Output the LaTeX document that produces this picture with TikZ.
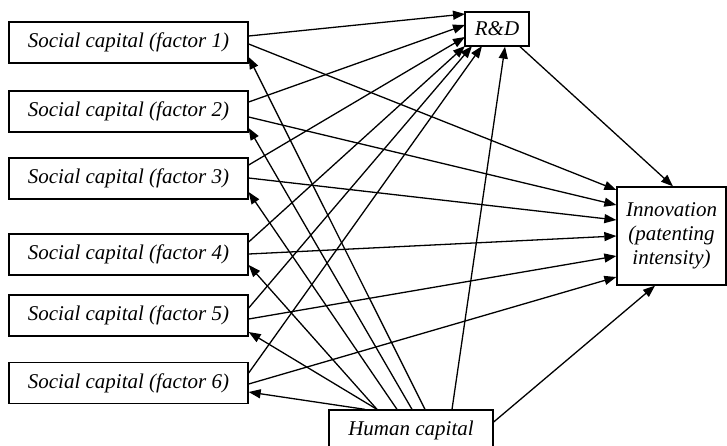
\documentclass[tikz,border=0pt]{standalone}
\usepackage{fontspec}
\setmainfont{Liberation Serif}
\usetikzlibrary{arrows.meta}

\begin{document}
\begin{tikzpicture}[x=1pt, y=-1pt,
        box/.style={draw, line width=1.3pt, inner sep=0pt, font=\fontsize{21}{24}\selectfont\itshape},
        link/.style={line width=1.3pt, -{Triangle[length=12pt, width=9pt]}}]
        \useasboundingbox (0,0) rectangle (727,445);
        \foreach \i/\y in {1/42.5, 2/111.5, 3/178.5, 4/254.5, 5/315.5, 6/383}
        {
            \node[box, minimum width=239pt, minimum height=41pt] (sc\i) at (128.5, \y) {Social capital (factor \i)};
        }
        \node[box, minimum width=64pt, minimum height=34pt] (rd) at (497, 29) {R\&D};
        \node[box, minimum width=109pt, minimum height=98pt, align=center] (inno) at (671.5, 236) {Innovation\\(patenting\\intensity)};
        \node[box, minimum width=164pt, minimum height=41pt] (hc) at (411, 430.5) {Human capital};
        \foreach \i/\a/\rx/\ry/\b/\iy/\c/\hx in {1/6.5/-32/15/-1.5/46/-14.5/14, 2/9.5/-32/4/-5.5/31/-16.5/1, 3/13.5/-32/-8/0.5/16/-13.5/-14, 4/12.5/-32/-17/0.5/0/-10.5/-34, 5/7.5/-25/-17/-3.5/-20/-16.5/-34, 6/10/-15/-17/-1/-41/-9/-46}
        {
            \draw[link] ([yshift=\a pt]sc\i.east) -- ([xshift=\rx pt, yshift=\ry pt]rd.center);
            \draw[link] ([yshift=\b pt]sc\i.east) -- ([yshift=\iy pt]inno.west);
            \draw[link] ([xshift=\hx pt]hc.north) -- ([yshift=\c pt]sc\i.east);
        }
        \draw[link] ([xshift=41pt]hc.north) -- ([xshift=8pt]rd.south);
        \draw[link] ([xshift=23pt]rd.south) -- ([xshift=1.5pt]inno.north);
        \draw[link] ([yshift=8.5pt]hc.east) -- ([xshift=-16.5pt]inno.south);
    \end{tikzpicture}
\end{document}
